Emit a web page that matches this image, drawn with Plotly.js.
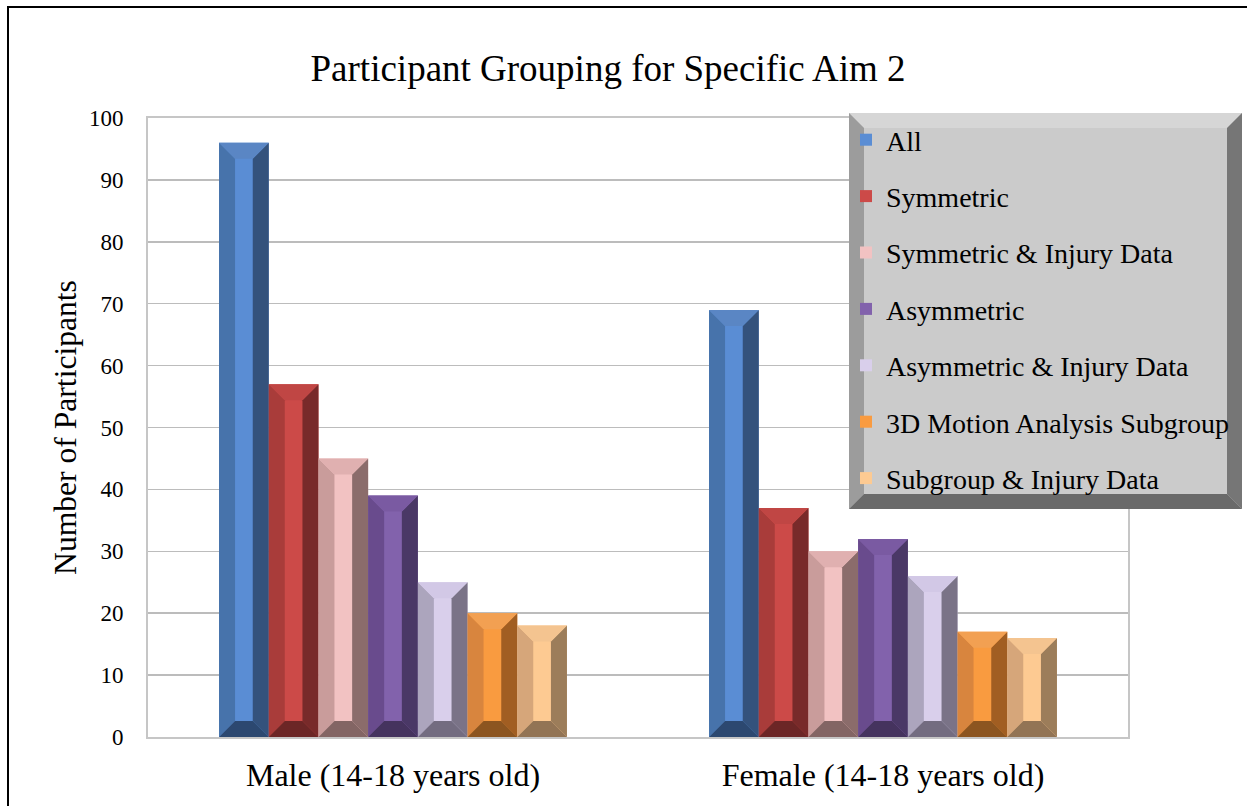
<!DOCTYPE html>
<html>
<head>
<meta charset="utf-8">
<script src="https://cdn.plot.ly/plotly-3.0.1.min.js"></script>
<style>
  html, body { margin: 0; padding: 0; background: #ffffff; }
  #wrap { position: relative; width: 1247px; height: 806px; overflow: hidden; }
  #chart { width: 1247px; height: 806px; }
  #frame { position: absolute; left: 7px; top: 6px; width: 1300px; height: 900px;
           border-top: 2px solid #000; border-left: 2px solid #000; pointer-events: none; }
</style>
</head>
<body>
<div id="wrap"><div id="chart"></div><div id="frame"></div></div>
<script>
// ---- data ----
const categories = ["Male (14-18 years old)", "Female (14-18 years old)"];
const seriesNames = ["All", "Symmetric", "Symmetric & Injury Data", "Asymmetric",
                     "Asymmetric & Injury Data", "3D Motion Analysis Subgroup", "Subgroup & Injury Data"];
const allValues        = [96, 69];
const symmetric        = [57, 37];
const symmetricInjury  = [45, 30];
const asymmetric       = [39, 32];
const asymmetricInjury = [25, 26];
const motionSubgroup   = [20, 17];
const subgroupInjury   = [18, 16];
const seriesValues = [allValues, symmetric, symmetricInjury, asymmetric,
                      asymmetricInjury, motionSubgroup, subgroupInjury];
const yTickVals = [0, 10, 20, 30, 40, 50, 60, 70, 80, 90, 100];

// ---- styles (bevel faces: center, left, right, top, bottom) ----
const palette = [
  {c:'#5a8dd4', l:'#4773ab', r:'#34527c', t:'#5a86c4', b:'#2c4870'},
  {c:'#cc4a48', l:'#a93c3a', r:'#782a2a', t:'#c04644', b:'#6c2626'},
  {c:'#f2c2c2', l:'#c99c9b', r:'#8b6c6b', t:'#e0b0b0', b:'#836564'},
  {c:'#8262ac', l:'#694b8d', r:'#4a3866', t:'#7a5aa2', b:'#45335e'},
  {c:'#d9cfeb', l:'#aca5bd', r:'#7a7387', t:'#d2c8e6', b:'#736c80'},
  {c:'#f99b40', l:'#d8853e', r:'#a15e22', t:'#f2a052', b:'#8c5520'},
  {c:'#fdca92', l:'#d6a67a', r:'#9c7d5a', t:'#f4c490', b:'#927455'}
];

const W = 1247, H = 806;
const M = {l:148, r:119, t:118, b:69, autoexpand: false};
const plotW = W - M.l - M.r, plotH = H - M.t - M.b;
const xRange = [-0.5, categories.length - 0.5];
const yRange = [0, 100];
const pxX = plotW / (xRange[1] - xRange[0]);
const pxY = plotH / (yRange[1] - yRange[0]);
const groupW = 0.71;
const barW = groupW / seriesNames.length;
const bevel = 16;
const bx = bevel / pxX, by = bevel / pxY;
const serif = 'Liberation Serif, Times New Roman, serif';

const xIdx = categories.map((_, i) => i);
const traces = seriesNames.map((name, k) => ({
  type: 'bar', name: name, x: xIdx, y: seriesValues[k],
  width: barW, offset: -groupW / 2 + k * barW,
  marker: {color: palette[k].c, line: {width: 0}},
  legendgroup: 'g' + k, hoverinfo: 'y+name'
}));

const shapes = [];
seriesValues.forEach((vals, k) => {
  vals.forEach((v, i) => {
    const x0 = i - groupW / 2 + k * barW, x1 = x0 + barW;
    const p = palette[k];
    const mk = (d, col) => shapes.push({type:'path', xref:'x', yref:'y', path:d,
      fillcolor: col, line:{width:0}, layer:'above'});
    mk(`M${x0},0 L${x0+bx},${by} L${x0+bx},${v-by} L${x0},${v} Z`, p.l);
    mk(`M${x1},0 L${x1},${v} L${x1-bx},${v-by} L${x1-bx},${by} Z`, p.r);
    mk(`M${x0},${v} L${x1},${v} L${x1-bx},${v-by} L${x0+bx},${v-by} Z`, p.t);
    mk(`M${x0},0 L${x1},0 L${x1-bx},${by} L${x0+bx},${by} Z`, p.b);
  });
});

// legend bevelled frame (paper coords from pixel positions)
const px2x = px => (px - M.l) / plotW;
const py2y = py => (H - M.b - py) / plotH;
const lo = {x0:849, x1:1242, y0:113, y1:509}, lb = 15;
const lf = (pts, col) => shapes.push({type:'path', xref:'paper', yref:'paper',
  path: 'M' + pts.map(p => px2x(p[0]) + ',' + py2y(p[1])).join(' L') + ' Z',
  fillcolor: col, line:{width:0}, layer:'above'});
lf([[lo.x0,lo.y0],[lo.x1,lo.y0],[lo.x1,lo.y1],[lo.x0,lo.y1]], '#cbcbcb');
lf([[lo.x0,lo.y0],[lo.x1,lo.y0],[lo.x1-lb,lo.y0+lb],[lo.x0+lb,lo.y0+lb]], '#d6d6d6');
lf([[lo.x0,lo.y0],[lo.x0+lb,lo.y0+lb],[lo.x0+lb,lo.y1-lb],[lo.x0,lo.y1]], '#9c9c9c');
lf([[lo.x1,lo.y0],[lo.x1,lo.y1],[lo.x1-lb,lo.y1-lb],[lo.x1-lb,lo.y0+lb]], '#767676');
lf([[lo.x0,lo.y1],[lo.x1,lo.y1],[lo.x1-lb,lo.y1-lb],[lo.x0+lb,lo.y1-lb]], '#6a6a6a');

const layout = {
  width: W, height: H, margin: M,
  paper_bgcolor: '#ffffff', plot_bgcolor: '#ffffff',
  barmode: 'overlay', showlegend: true,
  font: {family: serif, color: '#000000'},
  title: {text: 'Participant Grouping for Specific Aim 2', font: {family: serif, size: 37, color:'#000'},
          xref: 'container', x: 0.4876, xanchor: 'center', yref: 'container', y: 1 - 68 / H, yanchor: 'middle'},
  xaxis: {range: xRange, tickvals: xIdx, ticktext: categories, showgrid: false, zeroline: false,
          showline: true, mirror: true, linecolor: '#c6c6c6', linewidth: 2, automargin: false,
          ticks: '', ticklabelstandoff: 9, tickfont: {family: serif, size: 32, color:'#000'}},
  yaxis: {range: yRange, tickvals: yTickVals, showgrid: true, gridcolor: '#bcbcbc', gridwidth: 1.5,
          zeroline: false, showline: true, mirror: true, linecolor: '#c6c6c6', linewidth: 2, automargin: false,
          ticks: '', ticklabelstandoff: 18, tickfont: {family: serif, size: 23, color:'#000'},
          title: {text: 'Number of Participants', standoff: 3, font: {family: serif, size: 31.6, color:'#000'}}},
  legend: {x: px2x(846), y: py2y(115), xanchor: 'left', yanchor: 'top',
           bgcolor: 'rgba(0,0,0,0)', borderwidth: 0, tracegroupgap: 17,
           traceorder: 'grouped', font: {family: serif, size: 28, color:'#000'}},
  shapes: shapes
};

Plotly.newPlot('chart', traces, layout, {displayModeBar: false, staticPlot: true});
</script>
</body>
</html>
